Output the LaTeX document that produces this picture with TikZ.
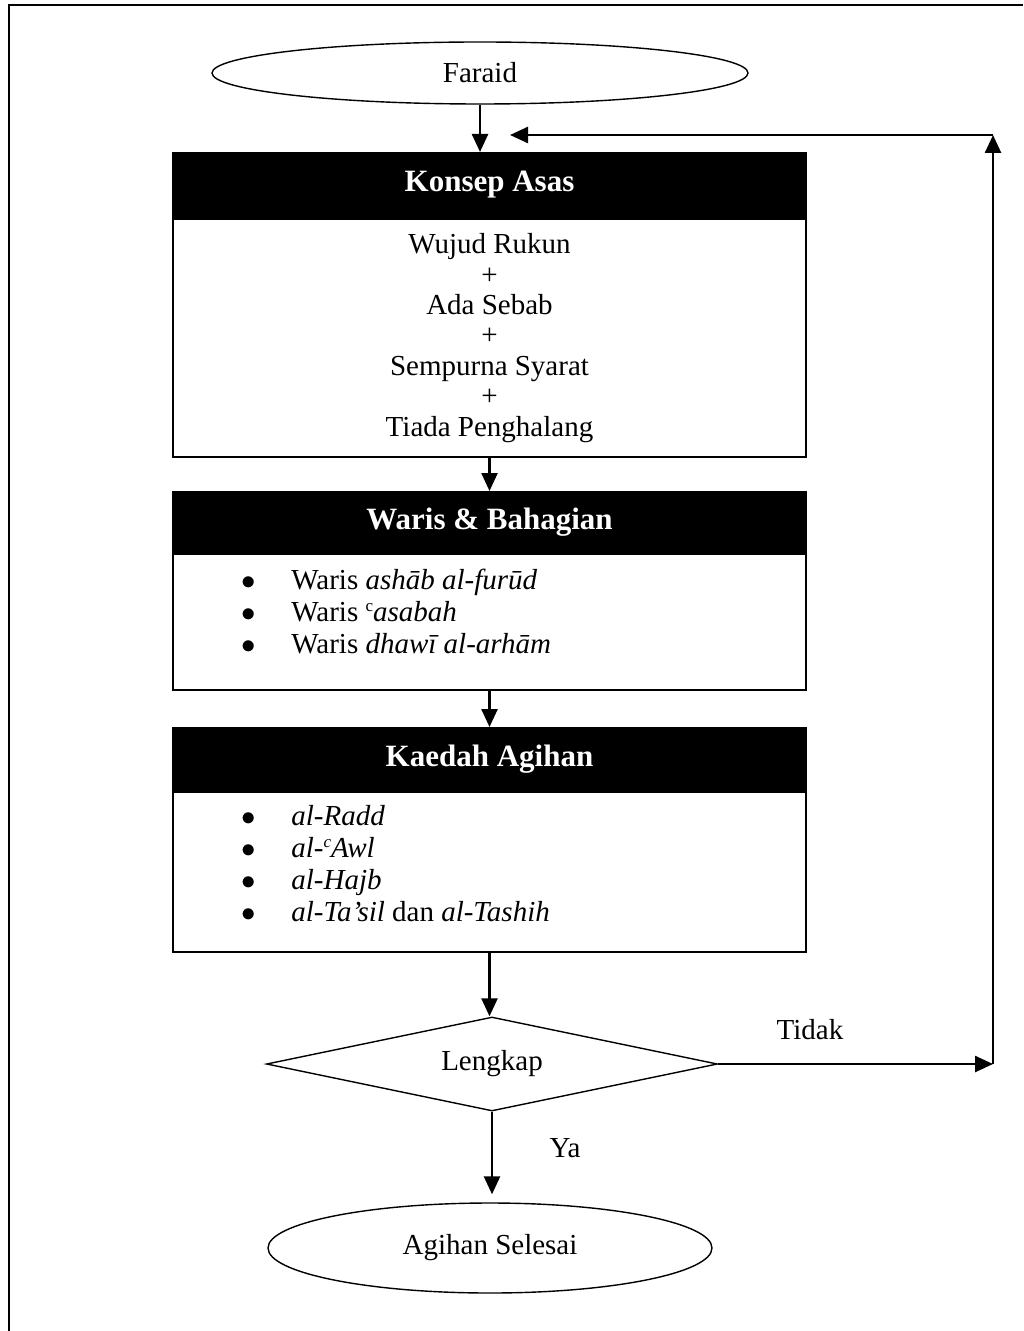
\documentclass[tikz,border=0pt]{standalone}
\usepackage{fontspec}
\setmainfont{Liberation Serif}
\usetikzlibrary{arrows.meta,positioning,shapes.geometric}
\newcommand{\ainmark}{\raisebox{0.75ex}{\fontsize{8.5}{8.5}\selectfont c}}

\begin{document}
\begin{tikzpicture}[
  x=0.5pt, y=-0.5pt,
  every node/.style={font=\fontsize{14.5}{15.2}\selectfont},
  terminal/.style={ellipse, draw, line width=0.7pt, inner sep=0pt},
  headbox/.style={rectangle, draw=black, fill=black, text=white,
                  font=\fontsize{15.5}{16}\selectfont\bfseries,
                  minimum width=316.5pt, line width=1pt, inner sep=0pt},
  bodybox/.style={rectangle, draw=black, minimum width=316.5pt,
                  line width=1pt, inner sep=0pt},
  listtext/.style={anchor=base west, inner sep=0pt,
                   font=\fontsize{14.5}{16}\selectfont},
  decision/.style={diamond, draw, line width=0.7pt, inner sep=0pt,
                   shape aspect=4.8, minimum width=225.5pt, minimum height=47pt},
  flow/.style={-{Triangle[length=9pt,width=8pt]}, line width=1.25pt}
]
  \useasboundingbox (0,0) rectangle (1023,1331);

  % page frame
  \draw[line width=1pt] (1023,5) -- (9,5) -- (9,1331);

  \node[terminal, minimum width=268pt, minimum height=31pt] (faraid) at (480,73) {Faraid};

  % konsep asas
  \node[headbox, minimum height=32pt] (konsephead) at (489.5,185) {Konsep Asas};
  \node[bodybox, minimum height=119pt, below=0pt of konsephead, align=center] (konsepbody)
       {Wujud Rukun\\+\\Ada Sebab\\+\\Sempurna Syarat\\+\\Tiada Penghalang};

  % waris & bahagian
  \node[headbox, minimum height=30pt] (warishead) at (489.5,522) {Waris \& Bahagian};
  \node[bodybox, minimum height=68pt, below=0pt of warishead] (warisbody) {};
  \node[listtext] (warislist) at ([xshift=34.5pt,yshift=-18pt]warisbody.north west)
       {\begin{tabular}[t]{@{}p{25pt}@{}l@{}}
        $\bullet$ & Waris \textit{ashāb al-furūd}\\
        $\bullet$ & Waris \ainmark\textit{asabah}\\
        $\bullet$ & Waris \textit{dhawī al-arhām}
        \end{tabular}};

  % kaedah agihan
  \node[headbox, minimum height=31pt] (kaedahhead) at (489.5,759) {Kaedah Agihan};
  \node[bodybox, minimum height=80pt, below=0pt of kaedahhead] (kaedahbody) {};
  \node[listtext] (kaedahlist) at ([xshift=34.5pt,yshift=-17pt]kaedahbody.north west)
       {\begin{tabular}[t]{@{}p{25pt}@{}l@{}}
        $\bullet$ & \textit{al-Radd}\\
        $\bullet$ & \textit{al-\ainmark Awl}\\
        $\bullet$ & \textit{al-Hajb}\\
        $\bullet$ & \textit{al-Ta’sil} dan \textit{al-Tashih}
        \end{tabular}};

  \node[decision] (lengkap) at (492,1064) {Lengkap};
  \node[terminal, minimum width=222pt, minimum height=45pt] (selesai) at (490,1248) {Agihan Selesai};

  \node (tidak) at (810,1030) {Tidak};
  \node (ya) at (565,1148) {Ya};

  \coordinate (loopbr) at (993,1064);
  \coordinate (looptr) at (993,135);
  \coordinate (loopend) at (510,135);

  \draw[flow] (faraid.south) -- (faraid.south |- konsephead.north);
  \draw[flow] (konsepbody) -- (warishead);
  \draw[flow] (warisbody) -- (kaedahhead);
  \draw[flow] (kaedahbody.south) -- (kaedahbody.south |- lengkap.north);
  \draw[flow, shorten >=4pt] (lengkap.south) -- (lengkap.south |- selesai.north);
  \draw[flow] (lengkap.east) -- (loopbr);
  \draw[flow] (loopbr) -- (looptr);
  \draw[flow] (looptr) -- (loopend);
\end{tikzpicture}
\end{document}
